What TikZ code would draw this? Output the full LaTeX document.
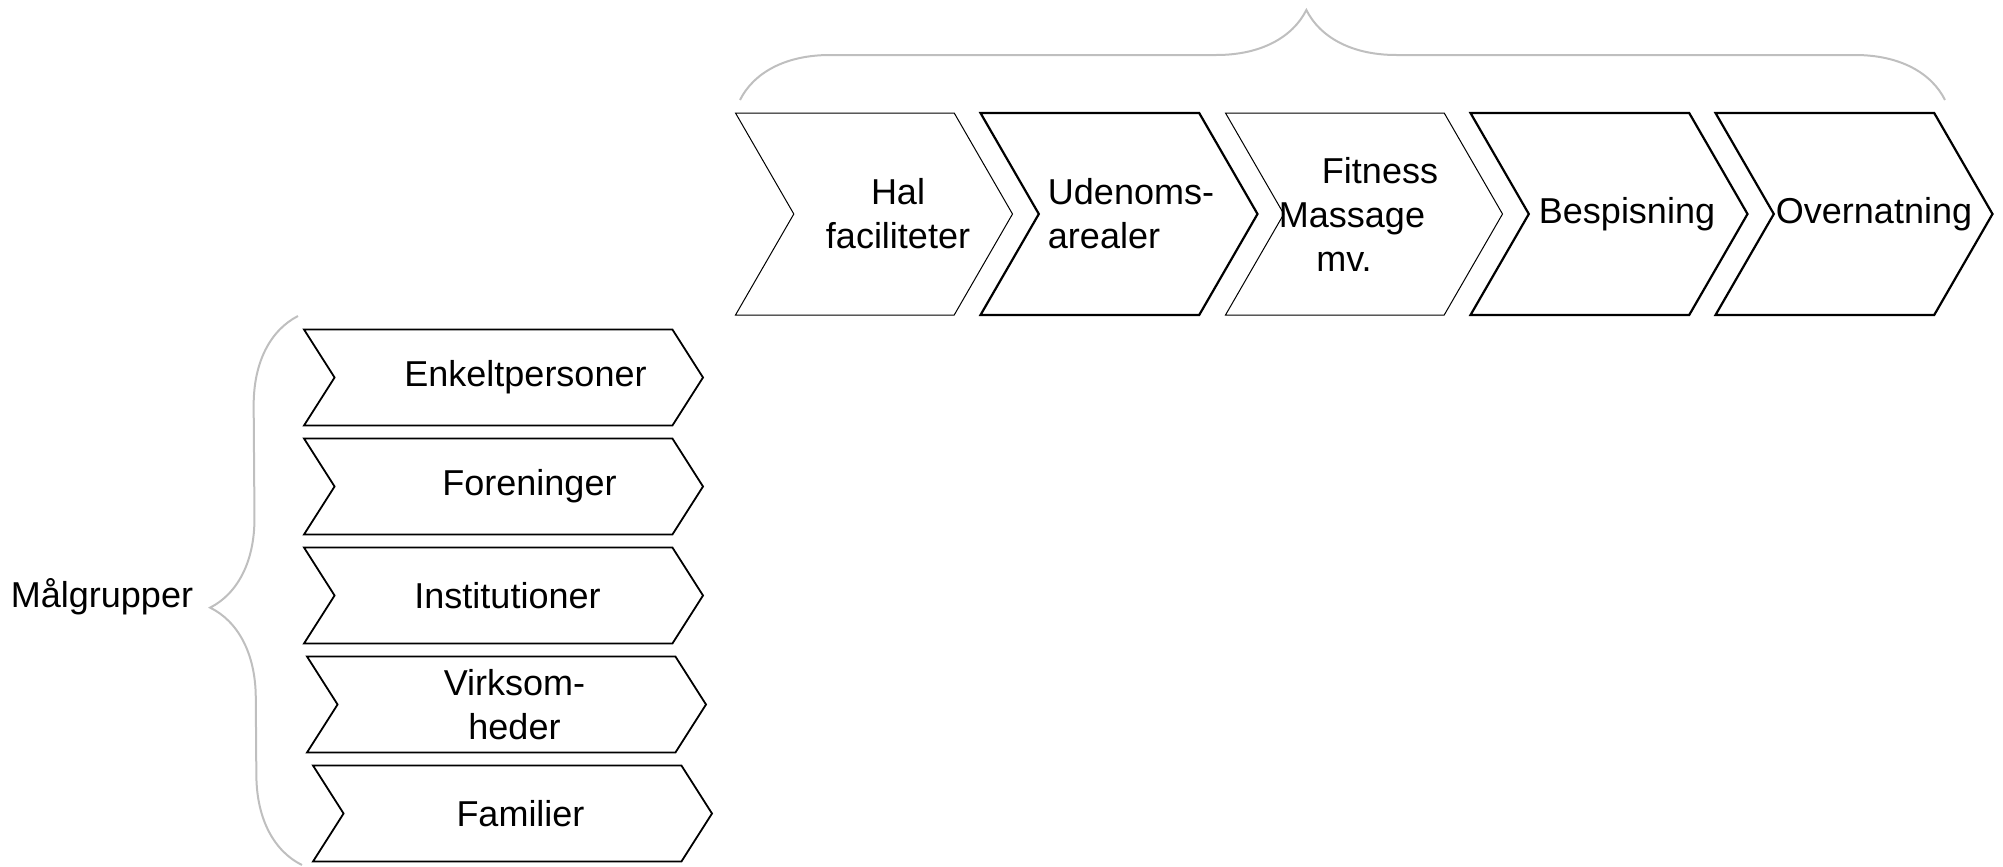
\documentclass[tikz,border=0pt]{standalone}
\usepackage{fontspec}
\setmainfont{Liberation Sans}
\usepackage{tikz}
\usetikzlibrary{shapes.symbols,decorations.pathreplacing}
\newcommand{\skub}[1]{\mbox{\hspace{#1}}}
\tikzstyle{trin} = [signal, signal from=west, signal to=east, signal pointer angle=120, draw, fill=white, minimum width=138.5pt, minimum height=101pt, inner xsep=-30pt, inner ysep=2pt, align=center, line width=0.5pt]
\tikzstyle{tyk} = [line width=1.1pt]
\tikzstyle{gruppe} = [signal, signal from=west, signal to=east, signal pointer angle=115, draw, fill=white, minimum width=199.5pt, minimum height=48pt, inner xsep=0pt, inner ysep=1pt, align=center, line width=0.9pt]
\tikzstyle{klamme} = [draw=black!25, line width=1pt, decorate, decoration={brace, amplitude=45pt, aspect=0.47}]

\begin{document}
\begin{tikzpicture}[node distance=122.5pt, font=\fontsize{18}{22}\selectfont]
  \useasboundingbox (0,0) rectangle (1001.5pt,-433.5pt);
  % ydelser
  \node[trin] (Hal) at (437pt,-107pt) {\skub{24pt}Hal\\\skub{24pt}faciliteter};
  \node[trin,tyk] (Udenoms) [right of=Hal, align=left] {\skub{12pt}Udenoms-\\\skub{12pt}arealer};
  \node[trin] (Fitness) [right of=Udenoms] {\skub{16pt}Fitness\\Massage\skub{12pt}\\mv.\skub{20pt}};
  \node[trin,tyk] (Bespisning) [right of=Fitness] {\skub{18pt}Bespisning};
  \node[trin,tyk] (Overnatning) [right of=Bespisning] {\skub{20pt}Overnatning};

  % maalgrupper
  \begin{scope}[node distance=54.5pt]
    \node[gruppe] (Enkelt) at (251.75pt,-188.75pt) {\skub{22pt}Enkeltpersoner};
    \node[gruppe] (Foreninger) [below of=Enkelt] {\skub{26pt}Foreninger};
    \node[gruppe] (Institutioner) [below of=Foreninger] {\skub{4pt}Institutioner};
    \node[gruppe] (Virksom) [below of=Institutioner, xshift=1.5pt] {\skub{8pt}Virksom-\\\skub{8pt}heder};
    \node[gruppe] (Familier) [below of=Virksom, xshift=3pt] {\skub{8pt}Familier};
  \end{scope}
  \node (Maal) at (51pt,-298.5pt) {Målgrupper};

  % klammer
  \coordinate (KTv) at (370pt,-50pt);
  \coordinate (KTh) at (972.5pt,-50pt);
  \coordinate (KVn) at (151pt,-432.5pt);
  \coordinate (KVo) at (149pt,-158pt);
  \draw[klamme] (KTv) -- (KTh);
  \draw[klamme] (KVn) -- (KVo);
\end{tikzpicture}
\end{document}
